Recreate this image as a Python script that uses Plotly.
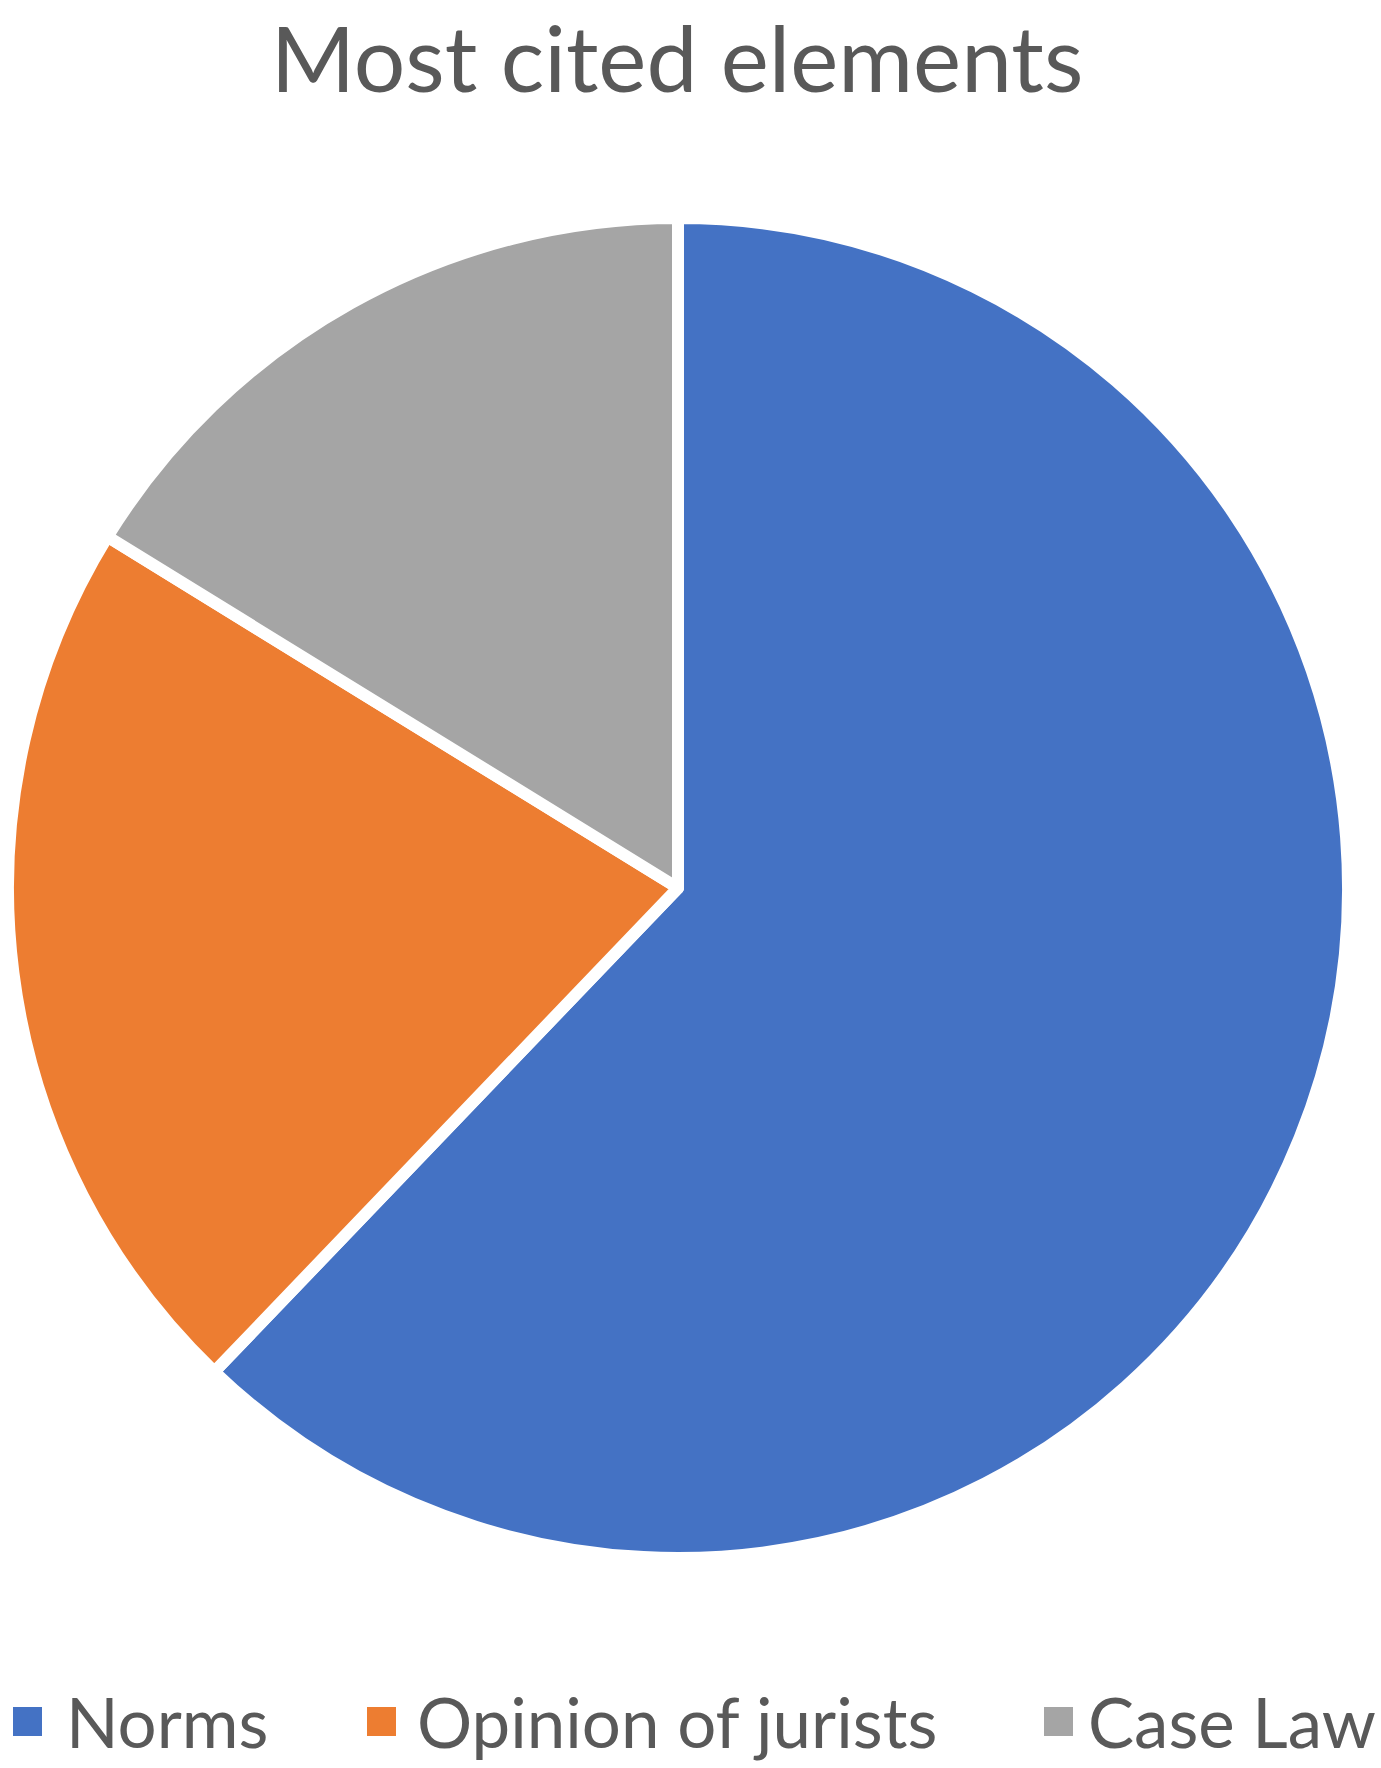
import plotly.graph_objects as go

categories = ["Norms", "Opinion of jurists", "Case Law"]
values = [23, 8, 6]
colors = ["#4472C4", "#ED7D31", "#A5A5A5"]
title_text = "Most cited elements"

W, H = 1381, 1768
FONT = "Lato, 'Open Sans', sans-serif"
TXT = "#595959"

fig = go.Figure()
fig.add_trace(go.Pie(
    labels=categories,
    values=values,
    sort=False,
    direction="clockwise",
    rotation=0,
    marker=dict(colors=colors, line=dict(color="white", width=12)),
    textinfo="none",
    hoverinfo="label+value+percent",
    showlegend=False,
    domain=dict(x=[8 / W, 1348 / W], y=[1 - 1558 / H, 1 - 218 / H]),
))

# Legend drawn as annotations + squares (positions in pixels -> paper)
sq_left = [13, 367, 1044]
txt_left = [64, 415, 1086]
sq_top, sq_bot = 1707, 1736
shapes = []
annotations = []
for cat, col, sx, tx in zip(categories, colors, sq_left, txt_left):
    shapes.append(dict(type="rect", xref="paper", yref="paper",
                       x0=sx / W, x1=(sx + 29) / W,
                       y0=1 - sq_bot / H, y1=1 - sq_top / H,
                       fillcolor=col, line=dict(width=0)))
    annotations.append(dict(text=cat, xref="paper", yref="paper",
                            x=tx / W, y=1 - 1721 / H,
                            xanchor="left", yanchor="middle",
                            showarrow=False,
                            font=dict(family=FONT, size=69, color=TXT)))

fig.update_layout(
    width=W, height=H,
    margin=dict(l=0, r=0, t=0, b=0),
    paper_bgcolor="white",
    plot_bgcolor="white",
    title=dict(text=title_text, x=677 / W, xanchor="center",
               y=1 - 60 / H, yanchor="middle", yref="container",
               font=dict(family=FONT, size=91, color=TXT)),
    shapes=shapes,
    annotations=annotations,
)

fig.write_html("out.html",
               config={"displayModeBar": False},
               post_script="document.body.style.margin='0';"
                           "document.body.style.overflow='hidden';")
